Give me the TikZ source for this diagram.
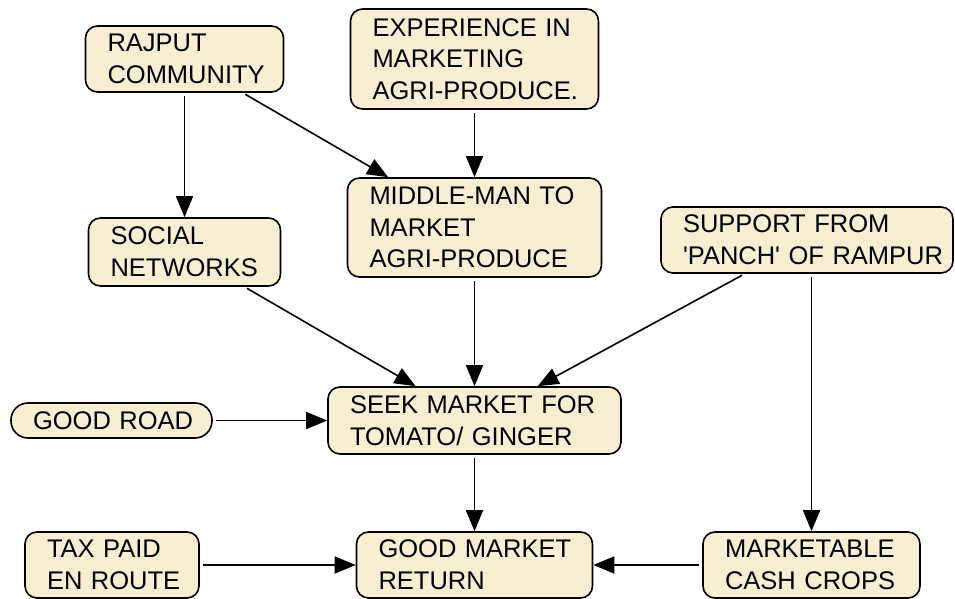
\documentclass[tikz,border=0pt]{standalone}
\usepackage{fontspec}
\setmainfont{Liberation Sans}
\usetikzlibrary{arrows.meta,calc}
\definecolor{boxfill}{RGB}{248,238,210}
\begin{document}
\begin{tikzpicture}[x=1pt,y=-1pt,
  box/.style={draw=black, fill=boxfill, line width=1.6pt, rounded corners=12pt,
    inner xsep=22pt, inner ysep=0pt, align=left, anchor=center,
    font=\fontsize{25.5}{31.7}\selectfont},
  pill/.style={box, rounded corners=17pt},
  conn/.style={line width=1.6pt, -{Triangle[length=21pt,width=17pt]}, shorten <=3pt}]
\useasboundingbox (0,0) rectangle (955,599);
\node[box, text width=154pt, minimum height=66pt] (rajput) at (184.5,59) {\mbox{RAJPUT}\\\mbox{COMMUNITY}};
\node[box, text width=148pt, minimum height=68pt] (social) at (184.5,252) {\mbox{SOCIAL}\\\mbox{NETWORKS}};
\node[box, text width=204pt, minimum height=100pt] (exper) at (474.5,59) {\mbox{EXPERIENCE IN}\\\mbox{MARKETING}\\\mbox{AGRI-PRODUCE.}};
\node[box, text width=210pt, minimum height=99pt] (middle) at (474.5,227.5) {\mbox{MIDDLE-MAN TO}\\\mbox{MARKET}\\\mbox{AGRI-PRODUCE}};
\node[box, text width=248pt, minimum height=66pt] (support) at (807,240) {\mbox{SUPPORT FROM}\\\mbox{\textquotesingle PANCH\textquotesingle{} OF RAMPUR}};
\node[pill, text width=157pt, minimum height=35pt] (goodroad) at (111.5,420.5) {\mbox{GOOD ROAD}};
\node[box, text width=249pt, minimum height=67pt] (seek) at (474.5,420.5) {\mbox{SEEK MARKET FOR}\\\mbox{TOMATO/ GINGER}};
\node[box, text width=130pt, minimum height=66pt] (tax) at (112,565) {\mbox{TAX PAID}\\\mbox{EN ROUTE}};
\node[box, text width=192pt, minimum height=66pt] (goodmkt) at (474.5,565) {\mbox{GOOD MARKET}\\\mbox{RETURN}};
\node[box, text width=173pt, minimum height=66pt] (mkt) at (811.5,565) {\mbox{MARKETABLE}\\\mbox{CASH CROPS}};
\draw[conn] (rajput) -- (social);
\draw[conn] (rajput) -- (middle);
\draw[conn] (exper) -- (middle);
\draw[conn] (social) -- (seek);
\draw[conn] (middle) -- (seek);
\draw[conn] (support) -- (seek);
\draw[conn] (mkt.north |- support.south) -- (mkt.north);
\draw[conn] (goodroad) -- (seek);
\draw[conn] (seek) -- (goodmkt);
\draw[conn] (tax) -- (goodmkt);
\draw[conn] (mkt) -- (goodmkt);
\end{tikzpicture}
\end{document}
